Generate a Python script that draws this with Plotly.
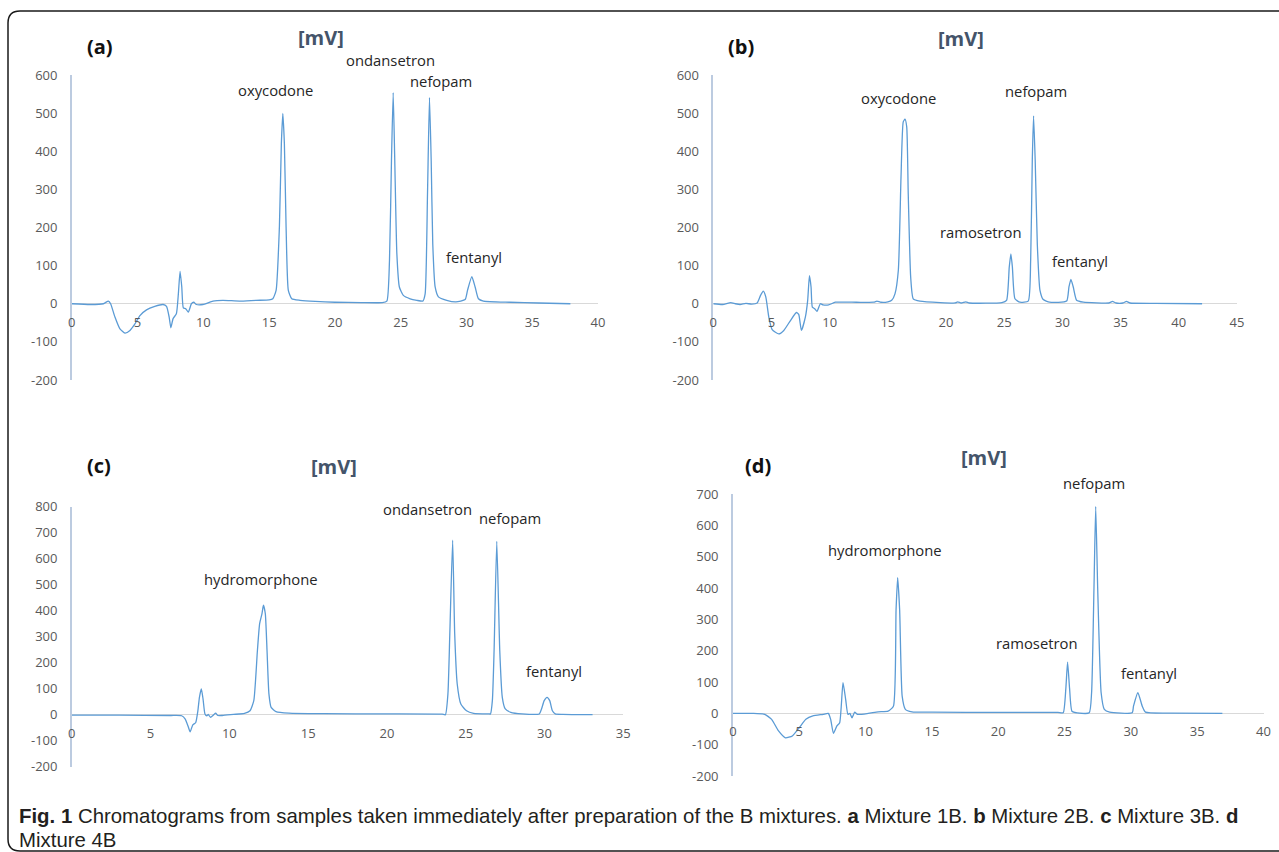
import plotly.graph_objects as go

W, H = 1279, 852

# ------------------------------------------------------------------ data
# (a) Mixture 1B  -- retention time [min], signal [mV]
a_time = [0, 1.4, 2.4, 2.78, 2.95, 3.28, 3.66, 4.04, 4.42, 4.8,
          5.18, 5.68, 6.31, 6.94, 7.2, 7.4, 7.53, 7.7, 7.95, 8.1,
          8.23, 8.36, 8.48, 8.66, 8.86, 9.09, 9.27, 9.47, 9.97, 10.73,
          11.49, 12.75, 14.0, 15.0, 15.28, 15.53, 15.78, 15.93, 16.04, 16.16,
          16.29, 16.46, 16.72, 17.35, 18.5, 20, 22, 23.6, 23.95, 24.15,
          24.3, 24.43, 24.55, 24.71, 24.9, 25.2, 25.72, 26.23, 26.68, 26.86,
          27.04, 27.19, 27.32, 27.44, 27.62, 27.87, 28.5, 29.2, 29.9, 30.08,
          30.41, 30.66, 30.91, 31.29, 33.3, 35.5, 37.9]
a_mv = [0, -2, 0, 7, 0, -35, -66, -77, -70, -53,
        -31, -16, -7, -2, -7, -35, -63, -39, -26, 26,
        85, 44, -11, -13, -22, 0, 4, -2, -2, 7,
        9, 7, 9, 10, 13, 35, 201, 420, 499, 420,
        201, 35, 13, 9, 6, 4, 3, 3, 7, 114,
        376, 554, 376, 131, 44, 22, 13, 9, 7, 26,
        289, 541, 376, 157, 44, 18, 9, 5, 11, 35,
        71, 44, 13, 7, 4, 2, 0]

# (b) Mixture 2B
b_time = [0, 0.8, 1.5, 1.9, 2.3, 2.8, 3.3, 3.77, 4.06, 4.29,
          4.51, 4.77, 5.06, 5.63, 6.06, 6.63, 7.14, 7.34, 7.57, 7.91,
          8.11, 8.26, 8.4, 8.51, 8.71, 8.91, 9.2, 9.43, 9.91, 10.49,
          12.3, 13.8, 14.06, 14.4, 15.0, 15.33, 15.61, 15.9, 16.13, 16.32,
          16.47, 16.62, 16.75, 16.96, 17.18, 17.76, 19.5, 20.8, 21.0, 21.3,
          21.7, 22.0, 24.8, 25.2, 25.43, 25.57, 25.7, 25.92, 26.35, 27.06,
          27.27, 27.41, 27.52, 27.66, 27.84, 28.07, 28.35, 28.9, 30.36, 30.56,
          30.73, 30.93, 31.22, 31.8, 34.0, 34.3, 34.6, 35.2, 35.5, 35.8,
          38, 42]
b_mv = [0, -2, 3, 0, -2, 1, -1, 2, 22, 33,
        18, -35, -68, -79, -70, -44, -23, -28, -70, -35,
        9, 74, 44, -9, -13, -20, 0, -3, -3, 4,
        4, 4, 7, 4, 5, 9, 26, 88, 333, 477,
        484, 464, 289, 70, 13, 7, 3, 2, 5, 2,
        5, 2, 3, 9, 96, 131, 96, 13, 4, 7,
        114, 376, 493, 376, 157, 35, 11, 4, 7, 44,
        64, 44, 9, 4, 2, 6, 2, 2, 6, 2,
        1, 0]

# (c) Mixture 3B
c_time = [0, 3, 6.27, 6.97, 7.2, 7.39, 7.51, 7.68, 7.86, 8.0,
          8.1, 8.22, 8.33, 8.45, 8.57, 8.66, 8.8, 8.99, 9.13, 9.27,
          9.55, 10.26, 10.96, 11.31, 11.55, 11.78, 11.92, 12.07, 12.16, 12.28,
          12.39, 12.51, 12.65, 12.96, 13.78, 16, 20, 23.5, 23.71, 23.87,
          23.99, 24.17, 24.3, 24.46, 24.69, 25.05, 25.5, 26.46, 26.57, 26.69,
          26.8, 26.97, 27.16, 27.32, 27.51, 27.86, 28.57, 29.67, 29.81, 29.98,
          30.16, 30.33, 30.5, 30.68, 31.15, 33.05]
c_mv = [-2, -2, -3, -4, -17, -46, -66, -39, -31, 15,
        67, 99, 60, 3, -4, 1, -10, -1, 6, -3,
        -3, 1, 5, 15, 54, 247, 350, 389, 421, 389,
        247, 80, 28, 12, 6, 4, 3, 2, 0, 80,
        311, 671, 311, 118, 41, 15, 5, 3, 3, 54,
        247, 667, 247, 67, 22, 9, 3, 3, 22, 54,
        67, 54, 15, 3, 1, 0]

# (d) Mixture 4B
d_time = [0, 1.5, 2.4, 2.92, 3.44, 3.96, 4.48, 5.0, 5.5, 6.03,
          6.8, 7.19, 7.37, 7.58, 7.84, 8.05, 8.3, 8.5, 8.67, 8.82,
          8.98, 9.18, 9.4, 10.2, 10.95, 11.7, 12.1, 12.3, 12.42, 12.57,
          12.76, 13.0, 13.5, 15, 20, 24.5, 24.9, 25.1, 25.23, 25.38,
          25.56, 25.95, 26.86, 27.04, 27.22, 27.35, 27.5, 27.76, 28.0, 28.4,
          30.1, 30.2, 30.53, 30.86, 31.1, 33, 36.9]
d_mv = [0, 0, -3, -19, -56, -78, -72, -46, -19, -8,
        -3, 0, -19, -64, -40, -30, 98, 45, -3, 0,
        -14, 4, -3, 0, 5, 7, 23, 331, 434, 331,
        55, 13, 5, 4, 3, 3, 2, 80, 164, 80,
        7, 2, 2, 66, 400, 661, 400, 66, 13, 4,
        2, 23, 66, 23, 4, 1, 0]

# peak names
a_peaks = ["oxycodone", "ondansetron", "nefopam", "fentanyl"]
b_peaks = ["oxycodone", "ramosetron", "nefopam", "fentanyl"]
c_peaks = ["hydromorphone", "ondansetron", "nefopam", "fentanyl"]
d_peaks = ["hydromorphone", "ramosetron", "nefopam", "fentanyl"]

# axis ticks
a_xticks = [0, 5, 10, 15, 20, 25, 30, 35, 40]
b_xticks = [0, 5, 10, 15, 20, 25, 30, 35, 40, 45]
c_xticks = [0, 5, 10, 15, 20, 25, 30, 35]
d_xticks = [0, 5, 10, 15, 20, 25, 30, 35, 40]
a_yticks = [-200, -100, 0, 100, 200, 300, 400, 500, 600]
b_yticks = [-200, -100, 0, 100, 200, 300, 400, 500, 600]
c_yticks = [-200, -100, 0, 100, 200, 300, 400, 500, 600, 700, 800]
d_yticks = [-200, -100, 0, 100, 200, 300, 400, 500, 600, 700]

panel_letters = ["(a)", "(b)", "(c)", "(d)"]
unit_title = "[mV]"
caption_lines = [
    "<b>Fig. 1</b> Chromatograms from samples taken immediately after preparation "
    "of the B mixtures. <b>a</b> Mixture 1B. <b>b</b> Mixture 2B. <b>c</b> Mixture 3B. <b>d</b>",
    "Mixture 4B",
]

# ------------------------------------------------------------------ layout / style
# label anchor positions (data coords) for each peak name
a_lab_pos = [(15.5, 561), (24.2, 640), (28.1, 583), (30.6, 123)]
b_lab_pos = [(15.9, 540), (23.0, 187), (27.7, 559), (31.5, 112)]
c_lab_pos = [(12.0, 523), (22.6, 790), (27.8, 758), (30.6, 167)]
d_lab_pos = [(11.5, 523), (22.9, 225), (27.2, 737), (31.4, 130)]

# plot-area boxes in page pixels: x0, x1, ytop, ybottom
boxes = [(71.8, 598, 75, 380), (713.3, 1237, 75, 380),
         (71.8, 623.3, 506.7, 766.7), (732.9, 1263.5, 494.3, 776)]
letter_px = [(100, 47), (740.6, 46), (99.2, 465), (758.2, 465)]
title_px = [(321, 38), (960.7, 38.3), (333.9, 466), (984.3, 457.3)]
caption_px = [(18, 816), (18, 840)]

LINE = "#5b9bd5"
FONT = "Open Sans"
CAPTION_FONT = "Liberation Sans"


def px(xp):
    return xp / W


def py(yp):
    return 1 - yp / H


panels = [
    (a_time, a_mv, a_xticks, a_yticks, a_peaks, a_lab_pos),
    (b_time, b_mv, b_xticks, b_yticks, b_peaks, b_lab_pos),
    (c_time, c_mv, c_xticks, c_yticks, c_peaks, c_lab_pos),
    (d_time, d_mv, d_xticks, d_yticks, d_peaks, d_lab_pos),
]

fig = go.Figure()
annotations = []
layout_axes = {}

for i, (t, v, xt, yt, names, lpos) in enumerate(panels):
    n = i + 1
    xa = "x" if n == 1 else f"x{n}"
    ya = "y" if n == 1 else f"y{n}"
    xkey = "xaxis" if n == 1 else f"xaxis{n}"
    ykey = "yaxis" if n == 1 else f"yaxis{n}"
    x0, x1, yt_px, yb_px = boxes[i]
    xdom = [px(x0), px(x1)]
    ydom = [py(yb_px), py(yt_px)]
    xmin, xmax = xt[0], xt[-1]
    ymin, ymax = yt[0], yt[-1]

    def to_paper(xv, yv):
        return (xdom[0] + (xv - xmin) / (xmax - xmin) * (xdom[1] - xdom[0]),
                ydom[0] + (yv - ymin) / (ymax - ymin) * (ydom[1] - ydom[0]))

    zero_pos = to_paper(0, 0)[1]

    fig.add_trace(go.Scatter(
        x=t, y=v, mode="lines", xaxis=xa, yaxis=ya, showlegend=False,
        line=dict(color=LINE, width=1.3, shape="spline", smoothing=0.5),
        hoverinfo="x+y"))

    layout_axes[xkey] = dict(
        domain=xdom, range=[xmin, xmax], anchor="free",
        position=zero_pos, showline=False, showgrid=False, zeroline=False,
        ticks="", tickvals=xt, ticktext=[str(k) for k in xt],
        tickfont=dict(family=FONT, size=13, color="#595959"),
        ticklabelstandoff=9, fixedrange=True, automargin=False)
    layout_axes[ykey] = dict(
        domain=ydom, range=[ymin, ymax], anchor=xa,
        showline=True, linecolor="#bccbe0", linewidth=1.5,
        showgrid=False, zeroline=True, zerolinecolor="#d9d9d9", zerolinewidth=1,
        ticks="", tickvals=yt, ticktext=[str(k) for k in yt],
        tickfont=dict(family=FONT, size=13, color="#595959"),
        ticklabelstandoff=10, fixedrange=True, automargin=False)

    # peak labels (converted to paper so labels above the range stay visible)
    for name, (lx, ly) in zip(names, lpos):
        ax_, ay_ = to_paper(lx, ly)
        annotations.append(dict(
            x=ax_, y=ay_, xref="paper", yref="paper", text=name, showarrow=False,
            xanchor="center", yanchor="middle",
            font=dict(family=FONT, size=14.8, color="#262626")))

    lx, ly = letter_px[i]
    annotations.append(dict(
        x=px(lx), y=py(ly), xref="paper", yref="paper",
        text=f"<b>{panel_letters[i]}</b>", showarrow=False,
        xanchor="center", yanchor="middle",
        font=dict(family=FONT, size=20, color="#111111")))
    tx, ty = title_px[i]
    annotations.append(dict(
        x=px(tx), y=py(ty), xref="paper", yref="paper",
        text=f"<b>{unit_title}</b>", showarrow=False,
        xanchor="center", yanchor="middle",
        font=dict(family=FONT, size=20, color="#44546a")))

for text, (cx, cy) in zip(caption_lines, caption_px):
    annotations.append(dict(
        x=px(cx), y=py(cy), xref="paper", yref="paper", text=text,
        showarrow=False, xanchor="left", yanchor="middle", align="left",
        borderpad=0,
        font=dict(family=CAPTION_FONT, size=20.4, color="#231f20")))

# rounded frame around the figure (open on the right, as in the original)
L, T, B, R = px(8), py(11), py(851), px(1300)
rx, ry = 12 / W, 12 / H
frame = (f"M {L + rx},{T} L {R},{T} M {R},{B} L {L + rx},{B} "
         f"Q {L},{B} {L},{B + ry} L {L},{T - ry} Q {L},{T} {L + rx},{T}")

fig.update_layout(
    width=W, height=H, margin=dict(l=0, r=0, t=0, b=0, autoexpand=False),
    paper_bgcolor="white", plot_bgcolor="white",
    font=dict(family=FONT),
    annotations=annotations,
    shapes=[dict(type="path", path=frame, xref="paper", yref="paper",
                 line=dict(color="#1a1a1a", width=1.5))],
    **layout_axes)

fig.write_html(
    "out.html", config={"displayModeBar": False},
    post_script="document.body.style.margin='0';document.body.style.overflow='hidden';")
